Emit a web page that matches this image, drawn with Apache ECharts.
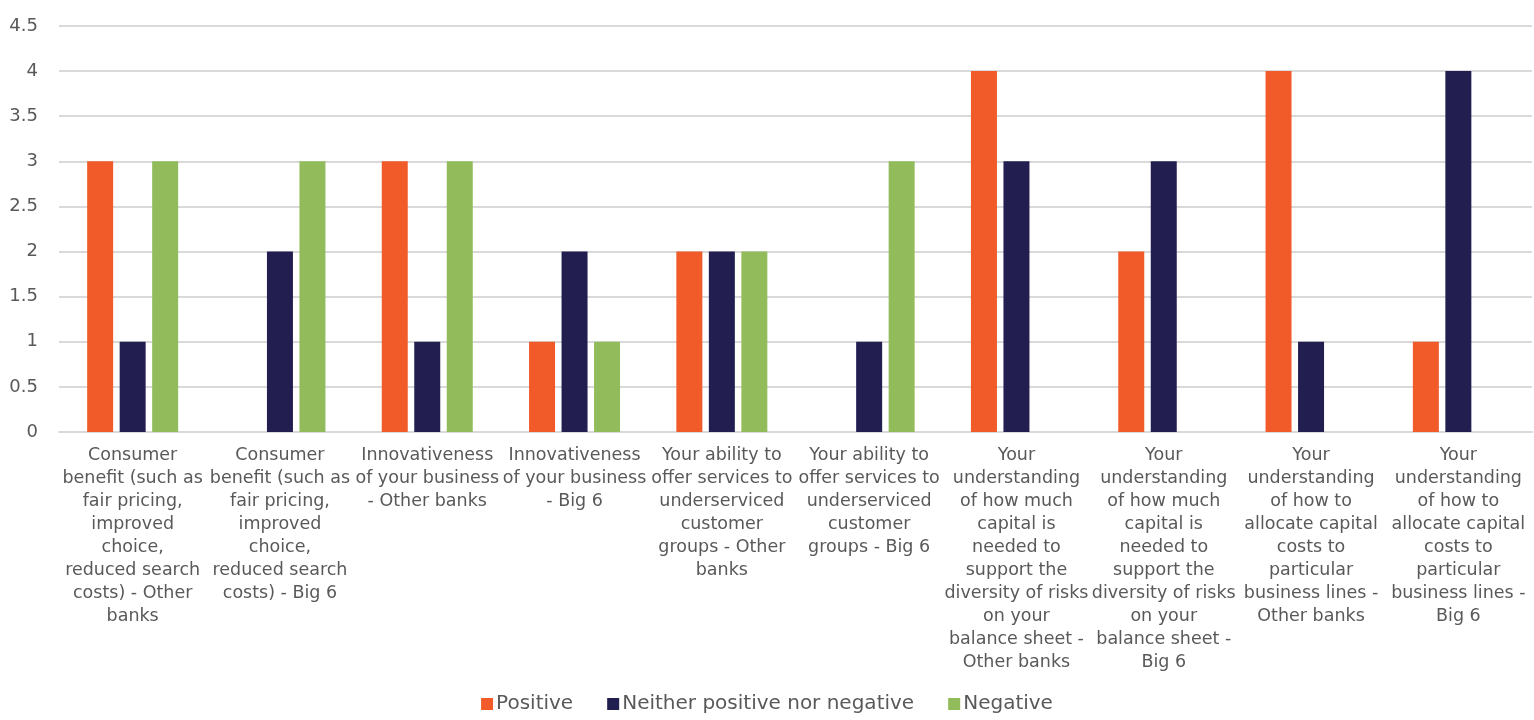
<!DOCTYPE html>
<html>
<head>
<meta charset="utf-8">
<script src="https://cdn.jsdelivr.net/npm/echarts@6/dist/echarts.min.js"></script>
<style>html,body{margin:0;padding:0;background:#fff}#c{width:1534px;height:720px}</style>
</head>
<body>
<div id="c"></div>
<script>
const categories = [
  "Consumer\nbenefit (such as\nfair pricing,\nimproved\nchoice,\nreduced search\ncosts) - Other\nbanks",
  "Consumer\nbenefit (such as\nfair pricing,\nimproved\nchoice,\nreduced search\ncosts) - Big 6",
  "Innovativeness\nof your business\n- Other banks",
  "Innovativeness\nof your business\n- Big 6",
  "Your ability to\noffer services to\nunderserviced\ncustomer\ngroups - Other\nbanks",
  "Your ability to\noffer services to\nunderserviced\ncustomer\ngroups - Big 6",
  "Your\nunderstanding\nof how much\ncapital is\nneeded to\nsupport the\ndiversity of risks\non your\nbalance sheet -\nOther banks",
  "Your\nunderstanding\nof how much\ncapital is\nneeded to\nsupport the\ndiversity of risks\non your\nbalance sheet -\nBig 6",
  "Your\nunderstanding\nof how to\nallocate capital\ncosts to\nparticular\nbusiness lines -\nOther banks",
  "Your\nunderstanding\nof how to\nallocate capital\ncosts to\nparticular\nbusiness lines -\nBig 6"
];
const positive = [3, 0, 3, 1, 2, 0, 4, 2, 4, 1];
const neither  = [1, 2, 1, 2, 2, 1, 3, 3, 1, 4];
const negative = [3, 3, 3, 1, 2, 3, 0, 0, 0, 0];
const seriesNames = ["Positive", "Neither positive nor negative", "Negative"];
const colors = ["#F15A29", "#221E50", "#92BC5B"];

const FONT = "DejaVu Sans";
const chart = echarts.init(document.getElementById('c'), null, {renderer: 'canvas'});
const mk = (name, data, color) => ({
  name, type: 'bar', data, barWidth: 26, barGap: '25%',
  itemStyle: {color}
});
chart.setOption({
  animation: false,
  textStyle: {fontFamily: FONT},
  grid: {left: 59, right: 2, top: 26, bottom: 288, containLabel: false},
  legend: {
    bottom: 1, left: 'center', icon: 'rect', itemWidth: 12, itemHeight: 12, itemGap: 34, itemStyle: {borderWidth: 0},
    textStyle: {color: '#595959', fontSize: 20, fontFamily: FONT, padding: [0, 0, 0, -2]},
    data: seriesNames
  },
  xAxis: {
    type: 'category', data: categories,
    axisLine: {lineStyle: {color: '#d9d9d9', width: 2}},
    axisTick: {show: false},
    axisLabel: {interval: 0, color: '#595959', fontSize: 17.5, lineHeight: 23, margin: 12, fontFamily: FONT}
  },
  yAxis: {
    type: 'value', min: 0, max: 4.5, interval: 0.5,
    axisLine: {show: false}, axisTick: {show: false},
    splitLine: {lineStyle: {color: '#d9d9d9', width: 2}},
    axisLabel: {color: '#595959', fontSize: 18, margin: 21, fontFamily: FONT}
  },
  series: [
    mk(seriesNames[0], positive, colors[0]),
    mk(seriesNames[1], neither, colors[1]),
    mk(seriesNames[2], negative, colors[2])
  ]
});
</script>
</body>
</html>
